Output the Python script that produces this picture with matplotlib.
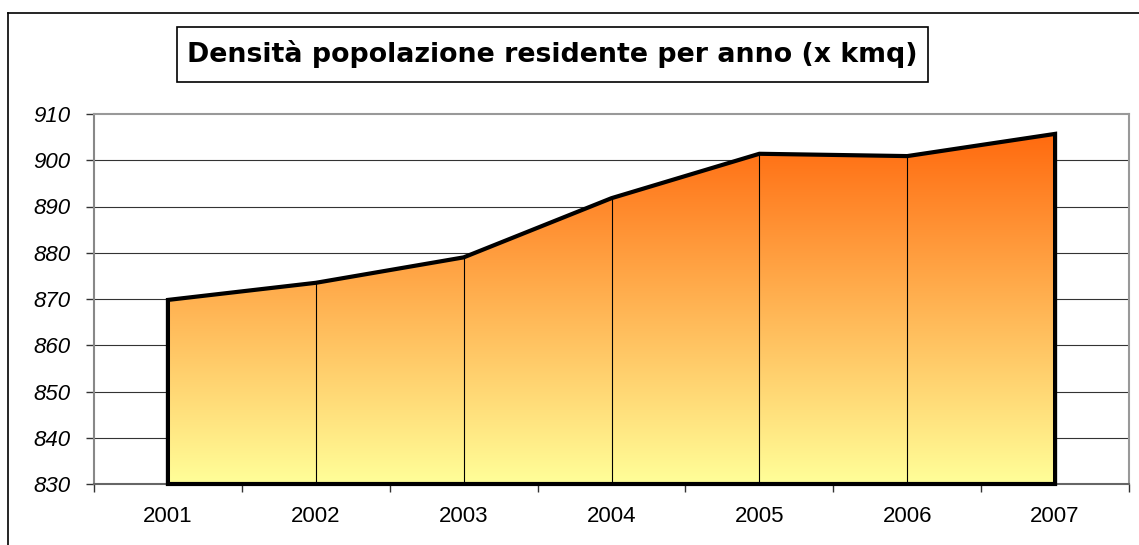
"""Densità popolazione residente per anno - area chart with gradient fill."""
import matplotlib.pyplot as plt
import numpy as np
from matplotlib.colors import LinearSegmentedColormap
from matplotlib.patches import Polygon, Rectangle
from matplotlib.lines import Line2D

plt.rcParams['font.family'] = ['Liberation Sans', 'DejaVu Sans']

anni = ["2001", "2002", "2003", "2004", "2005", "2006", "2007"]
densita = [869.8, 873.5, 879.0, 891.8, 901.4, 900.9, 905.7]
y_ticks = [830, 840, 850, 860, 870, 880, 890, 900, 910]
titolo = "Densità popolazione residente per anno (x kmq)"

W, H = 1139, 545
fig = plt.figure(figsize=(W / 100, H / 100), dpi=100)
fig.patch.set_facecolor("white")

# plot area in pixel coords
left, right, top, bottom = 94, 1129, 114, 484
ax = fig.add_axes([left / W, 1 - bottom / H, (right - left) / W, (bottom - top) / H])

n = len(anni)
xs = np.arange(n) + 0.5
ymin, ymax = y_ticks[0], y_ticks[-1]
ax.set_xlim(0, n)
ax.set_ylim(ymin, ymax)

# horizontal gridlines
for v in y_ticks[1:-1]:
    ax.axhline(v, color="#333333", lw=0.8, zorder=1)

# gradient fill clipped to the area polygon
verts = [(xs[0], ymin)] + list(zip(xs, densita)) + [(xs[-1], ymin)]
poly = Polygon(verts, closed=True, facecolor="none", edgecolor="none")
ax.add_patch(poly)
cmap = LinearSegmentedColormap.from_list("grad", ["#FFFF99", "#FF6A0F"])
grad = np.linspace(0, 1, 256).reshape(-1, 1)
im = ax.imshow(grad, cmap=cmap, origin="lower", aspect="auto",
               extent=[xs[0], xs[-1], ymin, max(densita)], zorder=2)
im.set_clip_path(poly)

# thin vertical drop lines at interior points
for x, v in zip(xs[1:-1], densita[1:-1]):
    ax.plot([x, x], [ymin, v], color="black", lw=0.8, zorder=3)

# thick outline
outline = Polygon(verts, closed=True, facecolor="none", edgecolor="black",
                  lw=3, joinstyle="miter", zorder=4)
outline.set_clip_on(False)
ax.add_patch(outline)

# axes styling
for s in ["top", "right"]:
    ax.spines[s].set_color("#999999")
    ax.spines[s].set_linewidth(1.5)
ax.spines["left"].set_color("#888888")
ax.spines["left"].set_linewidth(1.5)
ax.spines["bottom"].set_color("#666666")
ax.spines["bottom"].set_linewidth(1.5)

ax.set_yticks(y_ticks)
ax.set_yticklabels([str(v) for v in y_ticks], fontstyle="italic", fontsize=16)
ax.tick_params(axis="y", direction="out", length=6, width=1, color="#333333", pad=11)

ax.set_xticks(np.arange(n + 1))
ax.set_xticklabels([])
ax.tick_params(axis="x", which="major", direction="out", length=6, width=1, color="#333333")
ax.set_xticks(xs, minor=True)
ax.set_xticklabels(anni, minor=True, fontsize=16)
ax.tick_params(axis="x", which="minor", length=0, pad=16)

# title box
fig.patches.append(Rectangle((177 / W, 1 - 82 / H), (928 - 177) / W, (82 - 27) / H,
                             transform=fig.transFigure, facecolor="white",
                             edgecolor="black", lw=1.2))
fig.text(552.5 / W, 1 - 54.5 / H, titolo, ha="center", va="center",
         fontsize=19.3, fontweight="bold", family="DejaVu Sans")

# outer chart border (top and left edges visible)
fig.add_artist(Line2D([7.5 / W, 1], [1 - 13 / H, 1 - 13 / H], transform=fig.transFigure,
                      color="black", lw=1.2))
fig.add_artist(Line2D([7.5 / W, 7.5 / W], [0, 1 - 13 / H], transform=fig.transFigure,
                      color="black", lw=1.2))

fig.savefig("out.png", dpi=100)
